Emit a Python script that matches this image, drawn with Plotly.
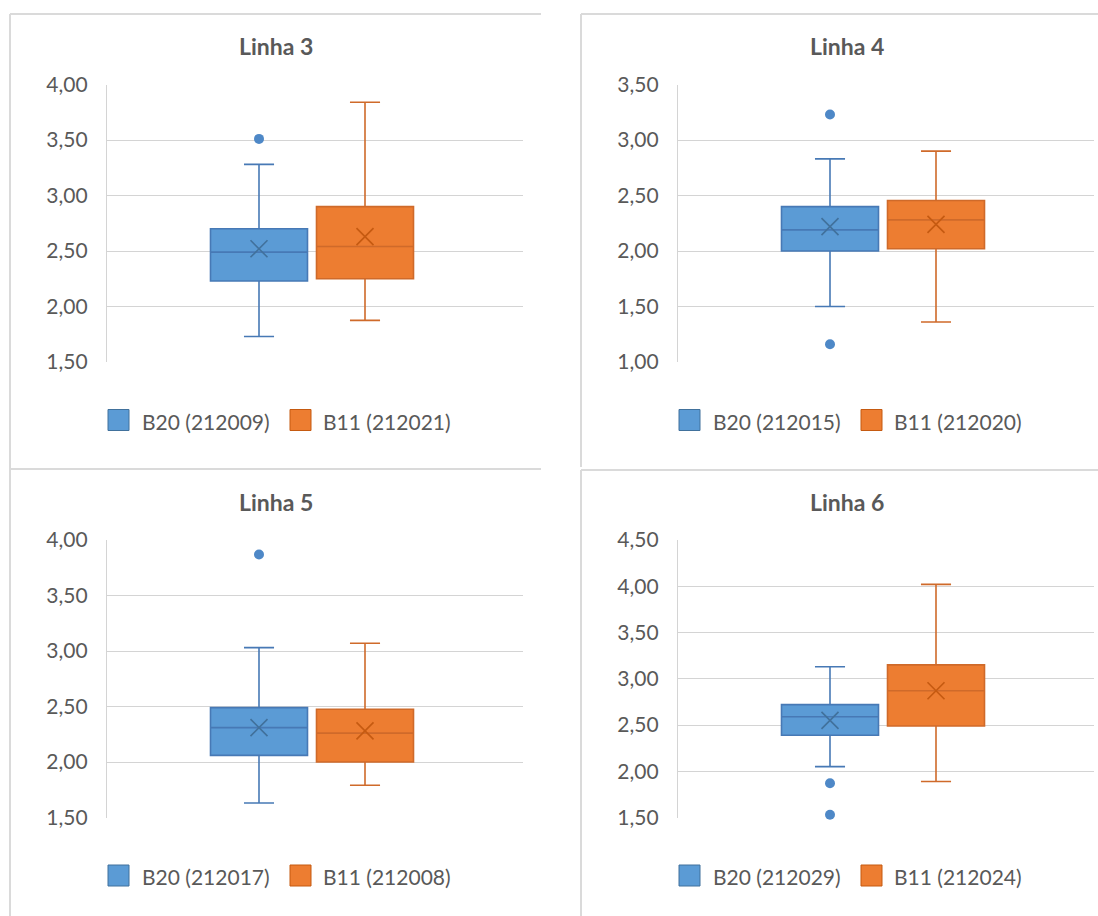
import plotly.graph_objects as go

# ---------------- data ----------------
titles = ["Linha 3", "Linha 4", "Linha 5", "Linha 6"]
b20_names = ["B20 (212009)", "B20 (212015)", "B20 (212017)", "B20 (212029)"]
b11_names = ["B11 (212021)", "B11 (212020)", "B11 (212008)", "B11 (212024)"]

b20_min = [1.73, 1.50, 1.63, 2.05]
b20_q1 = [2.23, 2.00, 2.06, 2.39]
b20_median = [2.49, 2.19, 2.31, 2.59]
b20_q3 = [2.70, 2.40, 2.49, 2.72]
b20_max = [3.28, 2.83, 3.03, 3.13]
b20_mean = [2.52, 2.22, 2.31, 2.55]
b20_outliers = [[3.51], [3.23, 1.16], [3.87], [1.87, 1.53]]

b11_min = [1.875, 1.36, 1.79, 1.89]
b11_q1 = [2.25, 2.02, 2.00, 2.49]
b11_median = [2.54, 2.28, 2.26, 2.87]
b11_q3 = [2.90, 2.455, 2.475, 3.15]
b11_max = [3.84, 2.90, 3.07, 4.02]
b11_mean = [2.63, 2.24, 2.28, 2.87]
b11_outliers = [[], [], [], []]

y_ranges = [[1.5, 4.0], [1.0, 3.5], [1.5, 4.0], [1.5, 4.5]]

# ---------------- style ----------------
W, H = 1098, 916
FONT = "Lato"
TXT = "#595959"
GRID = "#d4d4d4"
BORDER = "#dadada"
BLUE_FILL, BLUE_LINE, BLUE_DARK, BLUE_DOT = "#5b9bd5", "#4779b5", "#41719c", "#4e88c7"
ORNG_FILL, ORNG_LINE, ORNG_DARK = "#ed7d31", "#cf6a2a", "#c55a11"


def px(x):
    return x / W


def py(y):
    return 1 - y / H


# pixel geometry of each panel (col, row offsets)
DX, DY = 571, 455.5
offsets = [(0, 0), (DX, 0), (0, DY), (DX, DY)]
PLOT_X0, PLOT_X1, PLOT_Y0, PLOT_Y1 = 107, 523, 84.5, 362
BOX_STEP = 106.0       # px between box centres
BLUE_CENTER = 259.0    # px of the first box centre in panel 1

fig = go.Figure()
layout = dict(
    width=W, height=H, autosize=False,
    margin=dict(l=0, r=0, t=0, b=0, pad=0, autoexpand=False),
    paper_bgcolor="white", plot_bgcolor="white",
    separators=",.", showlegend=False,
    boxmode="overlay", boxgap=1 - 97 / BOX_STEP, boxgroupgap=0,
    font=dict(family=FONT, color=TXT, size=21),
)
annotations = []
shapes = []

for i in range(4):
    ox, oy = offsets[i]
    sfx = "" if i == 0 else str(i + 1)
    xa, ya = "x" + sfx, "y" + sfx
    cats = [b20_names[i], b11_names[i]]

    plot_w = PLOT_X1 - PLOT_X0
    left_units = (BLUE_CENTER - PLOT_X0) / BOX_STEP
    xr = [-left_units, -left_units + plot_w / BOX_STEP]

    layout["xaxis" + sfx] = dict(
        domain=[px(PLOT_X0 + ox), px(PLOT_X1 + ox)], anchor=ya,
        type="category", categoryorder="array", categoryarray=cats,
        range=xr, showticklabels=False, showgrid=False, zeroline=False,
        showline=False, ticks="", fixedrange=True, automargin=False,
    )
    layout["yaxis" + sfx] = dict(
        domain=[py(PLOT_Y1 + oy), py(PLOT_Y0 + oy)], anchor=xa,
        range=y_ranges[i], dtick=0.5, tick0=0, tickformat=".2f",
        showgrid=True, gridcolor=GRID, gridwidth=1.3, zeroline=False,
        showline=True, linecolor=GRID, linewidth=1.3, ticks="",
        ticklabelstandoff=14, tickfont=dict(family=FONT, size=21, color=TXT),
        fixedrange=True, automargin=False,
    )

    # boxes
    fig.add_trace(go.Box(
        x=[b20_names[i]], q1=[b20_q1[i]], median=[b20_median[i]], q3=[b20_q3[i]],
        lowerfence=[b20_min[i]], upperfence=[b20_max[i]],
        fillcolor=BLUE_FILL, line=dict(color=BLUE_LINE, width=1.6),
        whiskerwidth=0.31, boxpoints=False, name=b20_names[i],
        xaxis=xa, yaxis=ya, showlegend=False,
    ))
    fig.add_trace(go.Box(
        x=[b11_names[i]], q1=[b11_q1[i]], median=[b11_median[i]], q3=[b11_q3[i]],
        lowerfence=[b11_min[i]], upperfence=[b11_max[i]],
        fillcolor=ORNG_FILL, line=dict(color=ORNG_LINE, width=1.6),
        whiskerwidth=0.31, boxpoints=False, name=b11_names[i],
        xaxis=xa, yaxis=ya, showlegend=False,
    ))
    # means
    fig.add_trace(go.Scatter(
        x=[b20_names[i]], y=[b20_mean[i]], mode="markers", xaxis=xa, yaxis=ya,
        marker=dict(symbol="x-thin", size=17, line=dict(color=BLUE_DARK, width=1.6)),
        showlegend=False, hoverinfo="y",
    ))
    fig.add_trace(go.Scatter(
        x=[b11_names[i]], y=[b11_mean[i]], mode="markers", xaxis=xa, yaxis=ya,
        marker=dict(symbol="x-thin", size=17, line=dict(color=ORNG_DARK, width=1.6)),
        showlegend=False, hoverinfo="y",
    ))
    # outliers
    if b20_outliers[i]:
        fig.add_trace(go.Scatter(
            x=[b20_names[i]] * len(b20_outliers[i]), y=b20_outliers[i],
            mode="markers", xaxis=xa, yaxis=ya, cliponaxis=False,
            marker=dict(symbol="circle", size=10, color=BLUE_DOT),
            showlegend=False, hoverinfo="y",
        ))
    if b11_outliers[i]:
        fig.add_trace(go.Scatter(
            x=[b11_names[i]] * len(b11_outliers[i]), y=b11_outliers[i],
            mode="markers", xaxis=xa, yaxis=ya, cliponaxis=False,
            marker=dict(symbol="circle", size=10, color=ORNG_FILL),
            showlegend=False, hoverinfo="y",
        ))

    # title
    annotations.append(dict(
        text="<b>" + titles[i] + "</b>", x=px(276 + ox), y=py(46 + oy),
        xref="paper", yref="paper", xanchor="center", yanchor="middle",
        showarrow=False, font=dict(family=FONT, size=23, color=TXT),
    ))
    # custom legend
    ly = 420 + oy
    for sq_x0, txt_x, fill, edge, label in [
        (108, 140, BLUE_FILL, BLUE_DARK, b20_names[i]),
        (290, 321, ORNG_FILL, ORNG_DARK, b11_names[i]),
    ]:
        shapes.append(dict(
            type="rect", xref="paper", yref="paper",
            x0=px(sq_x0 + ox), x1=px(sq_x0 + 21 + ox),
            y0=py(ly + 10.5), y1=py(ly - 10.5),
            fillcolor=fill, line=dict(color=edge, width=1),
        ))
        annotations.append(dict(
            text=label, x=px(txt_x + ox), y=py(ly + 1), xref="paper", yref="paper",
            xanchor="left", yanchor="middle", showarrow=False,
            font=dict(family=FONT, size=21, color=TXT),
        ))

# panel borders
def seg(x0, y0, x1, y1):
    shapes.append(dict(type="line", xref="paper", yref="paper",
                       x0=px(x0), y0=py(y0), x1=px(x1), y1=py(y1),
                       line=dict(color=BORDER, width=2)))

seg(10, 14, 541, 14)
seg(10, 14, 10, 916)
seg(10, 469, 541, 469)
seg(581, 14, 1098, 14)
seg(581, 14, 581, 467)
seg(581, 470, 1098, 470)
seg(581, 470, 581, 916)

layout["annotations"] = annotations
layout["shapes"] = shapes
fig.update_layout(**layout)

fig.write_html(
    "out.html",
    config={"displayModeBar": False},
    post_script="document.body.style.margin='0';document.body.style.overflow='hidden';",
)
